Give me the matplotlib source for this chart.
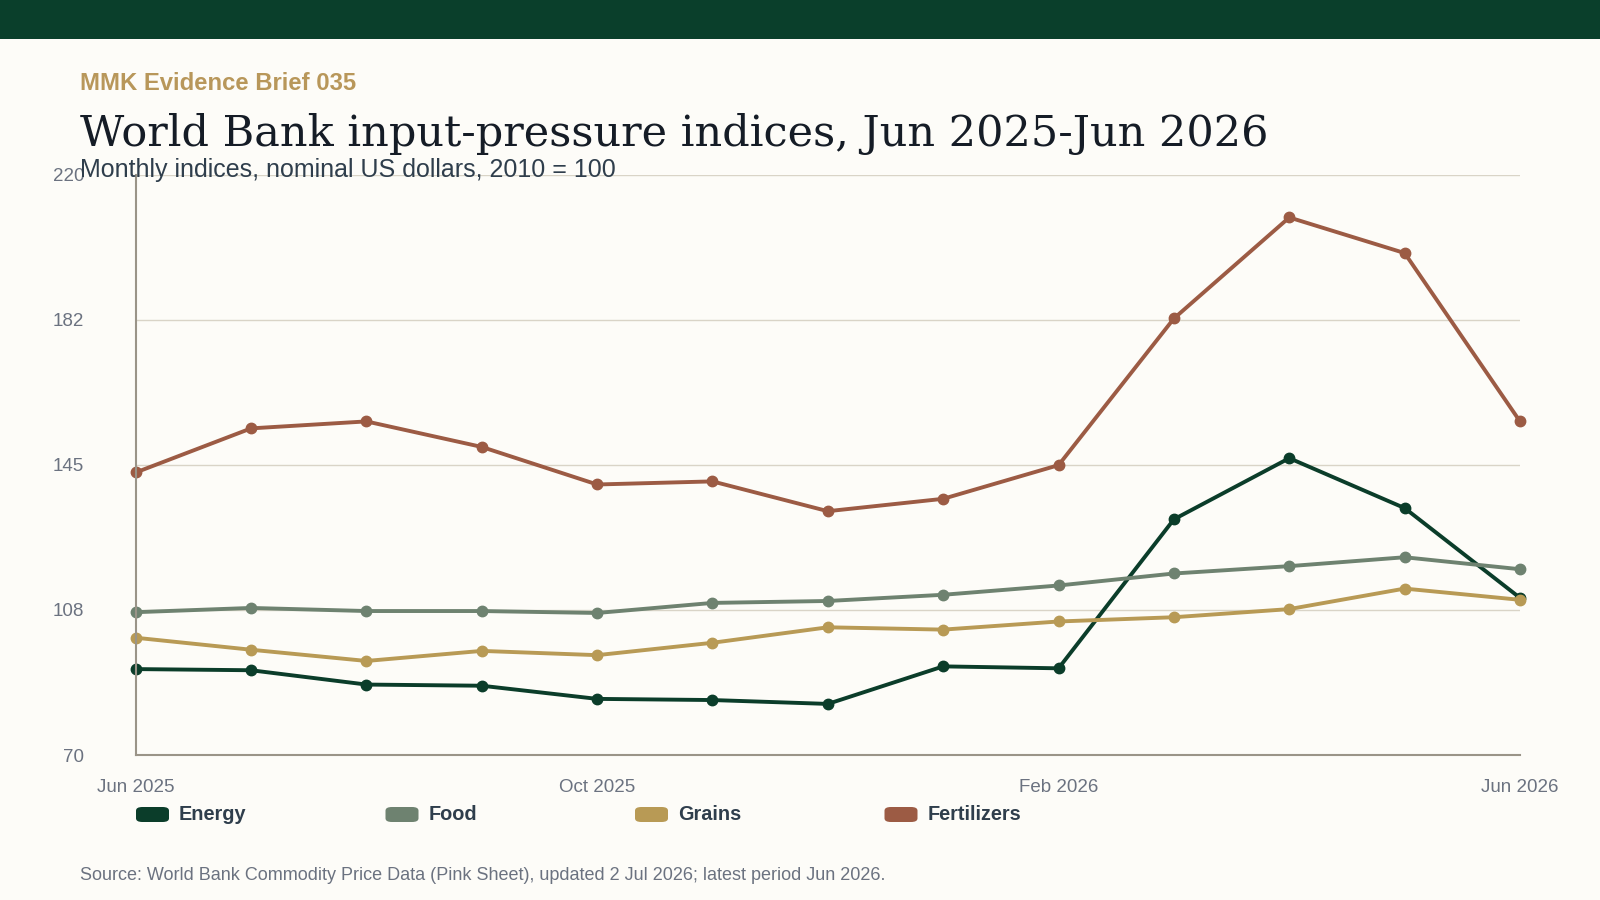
import numpy as np
import matplotlib.pyplot as plt
from matplotlib.patches import FancyBboxPatch, Rectangle

months = ["Jun 2025", "Jul 2025", "Aug 2025", "Sep 2025", "Oct 2025", "Nov 2025",
          "Dec 2025", "Jan 2026", "Feb 2026", "Mar 2026", "Apr 2026", "May 2026", "Jun 2026"]
energy = [92.2, 91.9, 88.2, 87.9, 84.5, 84.2, 83.2, 92.9, 92.4, 130.9, 146.7, 133.8, 110.6]
food = [106.9, 108.0, 107.2, 107.2, 106.7, 109.3, 109.8, 111.4, 113.8, 116.9, 118.8, 121.1, 118.0]
grains = [100.3, 97.2, 94.3, 96.9, 95.8, 99.0, 103.0, 102.4, 104.5, 105.6, 107.7, 113.0, 110.1]
fertilizers = [143.0, 154.4, 156.2, 149.6, 139.9, 140.7, 133.0, 136.2, 144.9, 182.8, 208.9, 199.7, 156.2]

series_names = ["Energy", "Food", "Grains", "Fertilizers"]
series_vals = [energy, food, grains, fertilizers]
colors = ["#0b3d2a", "#6e8270", "#b89a55", "#9c5b44"]
xtick_labels = ["Jun 2025", "Oct 2025", "Feb 2026", "Jun 2026"]

BG = "#fdfcf8"
SANS = ["Liberation Sans", "DejaVu Sans"]
plt.rcParams['font.family'] = SANS

W, H = 1600, 900
fig = plt.figure(figsize=(16, 9), dpi=100, facecolor=BG)

def fx(px):
    return px / W

def fy(py):
    return 1 - py / H

# top band
fig.patches.append(Rectangle((0, fy(39)), 1, 39 / H, transform=fig.transFigure,
                             facecolor="#0a3f2b", edgecolor="none"))

fig.text(fx(80), fy(90), "MMK Evidence Brief 035", fontsize=17.2, fontweight="bold",
         color="#b8975a", va="baseline")
fig.text(fx(80), fy(146), "World Bank input-pressure indices, Jun 2025-Jun 2026",
         fontsize=31, family=["DejaVu Serif"], color="#151c26", va="baseline")

ax = fig.add_axes([fx(135.7), fy(755), fx(1520) - fx(135.7), fy(174.5) - fy(755)])
ax.set_facecolor(BG)

x = np.arange(len(months))
for name, vals, c in zip(series_names, series_vals, colors):
    ax.plot(x, vals, color=c, lw=2.8, marker="o", ms=7.5, label=name, solid_capstyle="round", clip_on=False)

ax.set_xlim(0, len(months) - 1)
ax.set_ylim(70, 220)
yt = np.linspace(70, 220, 5)
ax.set_yticks(yt)
ax.set_yticklabels(["%d" % round(v) for v in yt])
ax.set_xticks([months.index(m) for m in xtick_labels])
ax.set_xticklabels(xtick_labels)
ax.tick_params(axis="y", length=0, pad=37, labelsize=13.5, labelcolor="#6b7280")
ax.tick_params(axis="x", length=0, pad=17, labelsize=13.5, labelcolor="#6b7280")
ax.grid(axis="y", color="#d9d4c7", lw=1)
ax.set_axisbelow(True)
for s in ["top", "right"]:
    ax.spines[s].set_visible(False)
for s in ["left", "bottom"]:
    ax.spines[s].set_color("#9a9488")
    ax.spines[s].set_linewidth(1.5)

# subtitle drawn after axes so it sits over the top tick label
fig.text(fx(80), fy(177), "Monthly indices, nominal US dollars, 2010 = 100", fontsize=18,
         color="#2f3e4c", va="baseline")

# legend
for i, (name, c) in enumerate(zip(series_names, colors)):
    lx = 136 + i * 249.5
    fig.patches.append(FancyBboxPatch((fx(lx), fy(822)), 33 / W, 15 / H,
                                      boxstyle="round,pad=0,rounding_size=0.004",
                                      transform=fig.transFigure, facecolor=c, edgecolor="none"))
    fig.text(fx(lx + 43), fy(814), name, fontsize=14.3, fontweight="bold",
             color="#2f3e4c", va="center")

fig.text(fx(80), fy(880), "Source: World Bank Commodity Price Data (Pink Sheet), updated 2 Jul 2026; "
         "latest period Jun 2026.", fontsize=13, color="#6b7280", va="baseline")

fig.savefig("out.png", dpi=100, facecolor=BG)
